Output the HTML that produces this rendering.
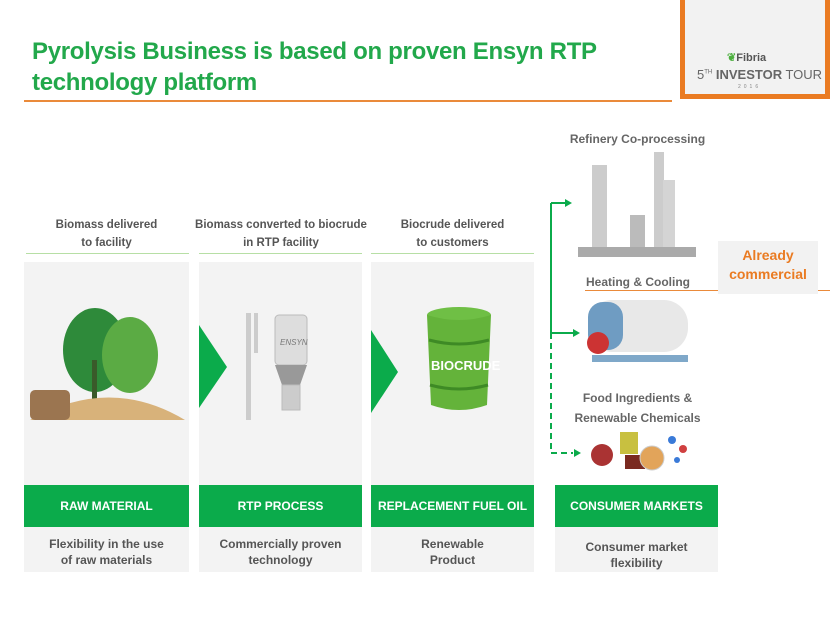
<!DOCTYPE html>
<html><head><style>
body{margin:0;width:830px;height:623px;background:#fff;position:relative;overflow:hidden;font-family:"Liberation Sans",sans-serif;}
.a{position:absolute}
.t{color:#22a84b;font-weight:bold;font-size:24px;line-height:31px;left:32px;top:36px;letter-spacing:-0.3px}
.lbl{font-size:11.5px;font-weight:bold;color:#555;text-align:center;line-height:18px}
.panel{background:#f3f3f3}
.bar{background:#0bab4b;color:#fff;font-weight:bold;font-size:12px;text-align:center;line-height:42px}
.sub{font-size:12px;font-weight:bold;color:#555;text-align:center;line-height:16px}
</style></head><body>
<div class="a t">Pyrolysis Business is based on proven Ensyn RTP<br>technology platform</div>
<div class="a" style="left:24px;top:100px;width:648px;height:2px;background:#ea8a3a"></div>
<div class="a" style="left:680px;top:-4px;width:140px;height:98px;border:5px solid #ea7b22;border-top:none;background:#f2f2f2"></div>
<div class="a" style="left:727px;top:51px;font-size:11px;font-weight:bold;color:#555"><span style="color:#4caf3e">❦</span>Fibria</div>
<div class="a" style="left:697px;top:67px;font-size:13px;color:#666;white-space:nowrap">5<sup style="font-size:6px">TH</sup> <b>INVESTOR</b> TOUR</div>
<div class="a" style="left:738px;top:84px;font-size:5px;color:#888;letter-spacing:3px">2016</div>

<div class="a lbl" style="left:24px;top:216px;width:165px">Biomass delivered<br>to facility</div>
<div class="a lbl" style="left:195px;top:216px;width:172px">Biomass converted to biocrude<br>in RTP facility</div>
<div class="a lbl" style="left:371px;top:216px;width:163px">Biocrude delivered<br>to customers</div>
<div class="a" style="left:26px;top:253px;width:163px;height:1px;background:#b7dfa5"></div>
<div class="a" style="left:199px;top:253px;width:163px;height:1px;background:#b7dfa5"></div>
<div class="a" style="left:371px;top:253px;width:163px;height:1px;background:#b7dfa5"></div>

<div class="a panel" style="left:24px;top:262px;width:165px;height:310px"></div>
<div class="a panel" style="left:199px;top:262px;width:163px;height:310px"></div>
<div class="a panel" style="left:371px;top:262px;width:163px;height:310px"></div>
<div class="a panel" style="left:555px;top:485px;width:163px;height:87px"></div>

<svg class="a" style="left:0;top:0" width="830" height="623">
<ellipse cx="95" cy="350" rx="32" ry="42" fill="#2e8a3a"/>
<ellipse cx="130" cy="355" rx="28" ry="38" fill="#5bab44"/>
<rect x="92" y="360" width="5" height="40" fill="#3a5a2a"/>
<path d="M30 420 Q110 375 185 420 Z" fill="#d8b27a"/>
<rect x="30" y="390" width="40" height="30" fill="#9b7550" rx="5"/>
<rect x="246" y="313" width="5" height="107" fill="#ccc"/>
<rect x="254" y="313" width="4" height="40" fill="#ccc"/>
<rect x="275" y="315" width="32" height="50" rx="4" fill="#ddd" stroke="#bbb"/>
<path d="M275 365 L307 365 L300 385 L282 385 Z" fill="#999"/>
<rect x="282" y="385" width="18" height="25" fill="#ccc" stroke="#bbb"/>
<text x="280" y="345" font-size="8" fill="#777" font-style="italic" font-family="Liberation Sans">ENSYN</text>
<polygon points="199,325 227,367 199,408" fill="#0bab4b"/>
<polygon points="371,330 398,372 371,413" fill="#0bab4b"/>
<ellipse cx="459" cy="315" rx="32" ry="8" fill="#6fbf45"/>
<path d="M427 315 L431 405 Q459 415 487 405 L491 315 Q459 325 427 315Z" fill="#64b33a"/>
<path d="M429 340 Q459 348 489 340 M430 385 Q459 393 488 385" stroke="#3e8a25" stroke-width="3" fill="none"/>
<text x="431" y="370" font-size="13" fill="#fff" font-weight="bold" font-family="Liberation Sans">BIOCRUDE</text>
<path d="M551 203 V333" stroke="#0bab4b" stroke-width="2" fill="none"/>
<path d="M551 203 H566" stroke="#0bab4b" stroke-width="2"/>
<polygon points="572,203 565,199 565,207" fill="#0bab4b"/>
<path d="M551 333 H574" stroke="#0bab4b" stroke-width="2"/>
<polygon points="580,333 573,329 573,337" fill="#0bab4b"/>
<path d="M551 333 V453 H573" stroke="#0bab4b" stroke-width="2" stroke-dasharray="6,4" fill="none"/>
<polygon points="581,453 574,449 574,457" fill="#0bab4b"/>
<rect x="592" y="165" width="15" height="85" fill="#ccc"/>
<rect x="654" y="152" width="10" height="98" fill="#ccc"/>
<rect x="630" y="215" width="15" height="35" fill="#bbb"/>
<rect x="663" y="180" width="12" height="70" fill="#d4d4d4"/>
<rect x="578" y="247" width="118" height="10" fill="#aaa"/>
<rect x="588" y="300" width="100" height="52" rx="24" fill="#e8e8e8"/>
<rect x="588" y="302" width="35" height="48" rx="15" fill="#6f9cc2"/>
<circle cx="598" cy="343" r="11" fill="#c33"/>
<rect x="592" y="355" width="96" height="7" fill="#7fa8c9"/>
<circle cx="602" cy="455" r="11" fill="#a33"/>
<rect x="620" y="432" width="18" height="22" fill="#c8c040"/>
<rect x="625" y="455" width="20" height="14" fill="#7a2a20"/>
<circle cx="652" cy="458" r="12" fill="#e2a45a" stroke="#ccc"/>
<circle cx="672" cy="440" r="4" fill="#3a7ad8"/><circle cx="683" cy="449" r="4" fill="#d04040"/><circle cx="677" cy="460" r="3" fill="#3a7ad8"/>
</svg>

<div class="a lbl" style="left:560px;top:130px;width:155px;font-size:12px;color:#666">Refinery Co-processing</div>
<div class="a lbl" style="left:583px;top:273px;width:110px;font-size:12px;color:#666">Heating &amp; Cooling</div>
<div class="a" style="left:585px;top:290px;width:245px;height:1px;background:#ea8a3a"></div>
<div class="a" style="left:718px;top:241px;width:100px;height:48px;background:#f2f2f2;color:#ea7b22;font-weight:bold;font-size:14px;text-align:center;line-height:19px;padding-top:5px">Already<br>commercial</div>
<div class="a lbl" style="left:560px;top:388px;width:155px;font-size:12px;color:#666;line-height:20px">Food Ingredients &amp;<br>Renewable Chemicals</div>

<div class="a bar" style="left:24px;top:485px;width:165px">RAW MATERIAL</div>
<div class="a bar" style="left:199px;top:485px;width:163px">RTP PROCESS</div>
<div class="a bar" style="left:371px;top:485px;width:163px">REPLACEMENT FUEL OIL</div>
<div class="a bar" style="left:555px;top:485px;width:163px">CONSUMER MARKETS</div>

<div class="a sub" style="left:24px;top:536px;width:165px">Flexibility in the use<br>of raw materials</div>
<div class="a sub" style="left:199px;top:536px;width:163px">Commercially proven<br>technology</div>
<div class="a sub" style="left:371px;top:536px;width:163px">Renewable<br>Product</div>
<div class="a sub" style="left:555px;top:539px;width:163px">Consumer market<br>flexibility</div>
</body></html>
